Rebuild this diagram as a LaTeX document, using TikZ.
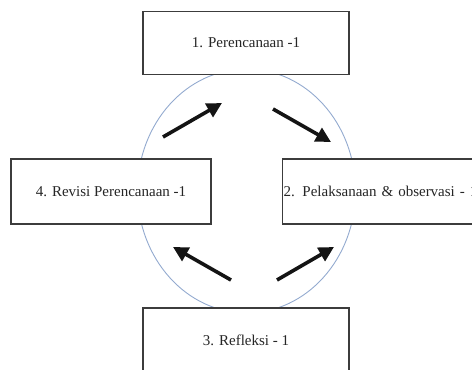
\documentclass[tikz,border=0pt]{standalone}
\usepackage{fontspec}
\setmainfont{Liberation Serif}
\usepackage{xcolor}
\usetikzlibrary{arrows.meta}

\definecolor{boxline}{HTML}{3C3C3C}
\definecolor{cycleline}{HTML}{93AACF}

\begin{document}
\begin{tikzpicture}[x=1pt, y=1pt,
    stage/.style={draw=boxline, line width=1.4pt, fill=white, minimum height=63pt,
      inner sep=0pt, text=black!85, font=\fontsize{15}{18}\selectfont},
    flow/.style={line width=3.6pt, black!92, -{Triangle[length=15pt, width=15pt]}}]
  \useasboundingbox (0,0) rectangle (472,370);
  \clip (0,0) rectangle (472,370);

  % the cycle behind the stages
  \draw[cycleline, line width=0.9pt] (246.5,179) ellipse [x radius=109, y radius=122];

  \node[stage, minimum width=206pt] (plan) at (246,327) {1. Perencanaan -1};
  \node[stage, minimum width=200pt, minimum height=65pt] (revisi) at (111,178.5) {4. Revisi Perencanaan -1};
  \node[stage, anchor=west, text width=230pt, align=left, inner xsep=1pt, minimum height=65pt]
    (laksana) at (282,178.5) {2. Pelaksanaan \& observasi - 1};
  \node[stage, minimum width=206pt, minimum height=64pt] (refleksi) at (246,30) {3. Refleksi - 1};

  % arrow ends
  \coordinate (a1) at (163,233);
  \coordinate (b1) at (222,267);
  \coordinate (a2) at (273,261);
  \coordinate (b2) at (331,228);
  \coordinate (a3) at (231,90);
  \coordinate (b3) at (173,123);
  \coordinate (a4) at (277,90);
  \coordinate (b4) at (334,123);

  \draw[flow] (a1) -- (b1);
  \draw[flow] (a2) -- (b2);
  \draw[flow] (a3) -- (b3);
  \draw[flow] (a4) -- (b4);
\end{tikzpicture}
\end{document}
